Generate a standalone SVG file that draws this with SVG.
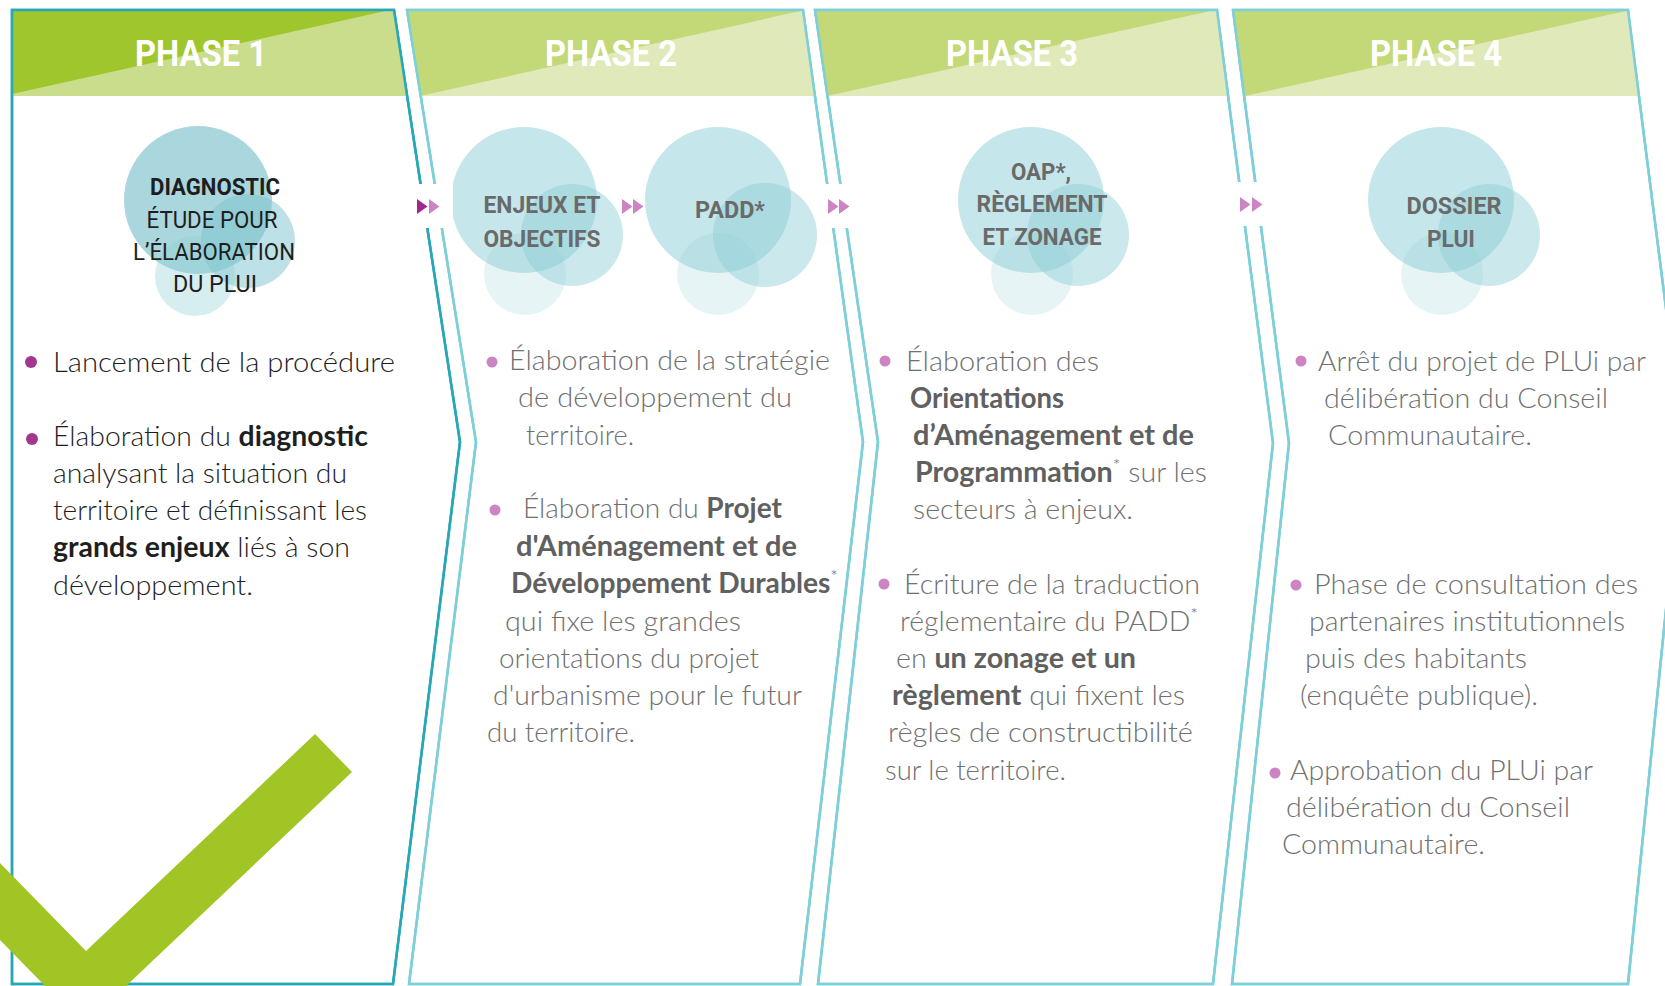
<svg xmlns="http://www.w3.org/2000/svg" width="1665" height="986" viewBox="0 0 1665 986">
<style>
.pan1{fill:#fff;stroke:#28a7b7;stroke-width:2.5;stroke-linejoin:miter}
.pan{fill:#fff;stroke:#7dcfd8;stroke-width:2.5;stroke-linejoin:miter}
.ttl{font-family:Roboto,"Liberation Sans",sans-serif;font-weight:700;font-size:36px;fill:#fff;text-anchor:middle}
.ct{font-family:Roboto,"Liberation Sans",sans-serif;font-weight:700;font-size:24px;fill:#6a6a6a;text-anchor:middle}
.ct1{font-family:Roboto,"Liberation Sans",sans-serif;font-weight:400;font-size:24px;fill:#1e1e1e;text-anchor:middle}
.ct1b{font-weight:700}
.tx{font-family:Lato,"Liberation Sans",sans-serif;font-weight:300;font-size:28px;fill:#707070}
.tx1{font-family:Lato,"Liberation Sans",sans-serif;font-weight:300;font-size:28px;fill:#1e1e1e}
.b{font-weight:700;fill:#606060}
.b1{font-weight:700;fill:#1f1f1f}
.sup{font-size:18px}
.c1a{fill:#6fbcc6;opacity:.6}
.c1b{fill:#7cc4cd;opacity:.5}
.c1c{fill:#8ccdd5;opacity:.35}
.ca{fill:#8ccdd5;opacity:.5}
.cb{fill:#8ccdd5;opacity:.45}
.cc{fill:#8ccdd5;opacity:.22}
.bul1{fill:#a3378f}
.bul{fill:#cd84c3}
.hd1a{fill:#9fc62c}
.hd1b{fill:#c9dd8d}
.hda{fill:#c3d977}
.hdb{fill:#dfe9ba}
</style>
<defs>
<clipPath id="clip1"><polygon points="12,10 394,10 460,442 393,984 12,984"/></clipPath>
<clipPath id="clip2"><polygon points="407,10 803,10 863,442 800,984 409,984 476,442"/></clipPath>
<clipPath id="clip3"><polygon points="815,10 1217,10 1273,443 1213,984 818,984 878,442"/></clipPath>
<clipPath id="clip4"><polygon points="1233,10 1628,10 1683,442 1628,984 1232,984 1289,443"/></clipPath>
<polygon id="tri" points="0,0 10.5,7.5 0,15"/>
</defs>
<rect width="1665" height="986" fill="#fff"/>

<g id="phase1">
<polygon class="pan1" points="12,10 394,10 460,442 393,984 12,984"/>
<g clip-path="url(#clip1)">
<rect class="hd1b" x="0" y="10" width="470" height="86"/>
<polygon class="hd1a" points="0,10 390,10 12,94 0,94"/>
</g>
<polygon class="pan1" style="fill:none" points="12,10 394,10 460,442 393,984 12,984"/>
<text class="ttl" x="201" y="66" textLength="132" lengthAdjust="spacingAndGlyphs">PHASE 1</text>
<circle class="c1a" cx="198" cy="200" r="74"/>
<circle class="c1b" cx="248" cy="241" r="47"/>
<circle class="c1c" cx="195" cy="276" r="40"/>
<text class="ct1 ct1b" x="215" y="195" textLength="130" lengthAdjust="spacingAndGlyphs">DIAGNOSTIC</text>
<text class="ct1" x="212" y="228" textLength="131" lengthAdjust="spacingAndGlyphs">ÉTUDE POUR</text>
<text class="ct1" x="214" y="260" textLength="162" lengthAdjust="spacingAndGlyphs">L’ÉLABORATION</text>
<text class="ct1" x="215" y="292" textLength="84" lengthAdjust="spacingAndGlyphs">DU PLUI</text>
<circle class="bul1" cx="31" cy="362" r="6"/>
<circle class="bul1" cx="32" cy="439" r="6"/>
<text class="tx1" x="53" y="372" textLength="342" lengthAdjust="spacingAndGlyphs">Lancement de la procédure</text>
<text class="tx1" x="53" y="446" textLength="315" lengthAdjust="spacingAndGlyphs">Élaboration du <tspan class="b1">diagnostic</tspan></text>
<text class="tx1" x="53" y="483" textLength="294" lengthAdjust="spacingAndGlyphs">analysant la situation du</text>
<text class="tx1" x="53" y="520" textLength="314" lengthAdjust="spacingAndGlyphs">territoire et définissant les</text>
<text class="tx1" x="53" y="557" textLength="297" lengthAdjust="spacingAndGlyphs"><tspan class="b1">grands enjeux</tspan> liés à son</text>
<text class="tx1" x="53" y="595" textLength="200" lengthAdjust="spacingAndGlyphs">développement.</text>
</g>

<g id="phase2">
<polygon class="pan" points="407,10 803,10 863,442 800,984 409,984 476,442"/>
<g clip-path="url(#clip2)">
<rect class="hdb" x="380" y="10" width="500" height="86"/>
<polygon class="hda" points="380,10 805,10 420,96 380,96"/>
</g>
<polygon class="pan" style="fill:none" points="407,10 803,10 863,442 800,984 409,984 476,442"/>
<text class="ttl" x="611" y="66" textLength="132" lengthAdjust="spacingAndGlyphs">PHASE 2</text>
<circle class="ca" cx="524" cy="200" r="73"/>
<circle class="cb" cx="572" cy="235" r="51"/>
<circle class="cc" cx="525" cy="274" r="41"/>
<text class="ct" x="542" y="213" textLength="117" lengthAdjust="spacingAndGlyphs">ENJEUX ET</text>
<text class="ct" x="542" y="247" textLength="117" lengthAdjust="spacingAndGlyphs">OBJECTIFS</text>
<circle class="ca" cx="718" cy="200" r="73"/>
<circle class="cb" cx="765" cy="235" r="52"/>
<circle class="cc" cx="718" cy="274" r="41"/>
<text class="ct" x="730" y="218" textLength="70" lengthAdjust="spacingAndGlyphs">PADD*</text>
<circle class="bul" cx="492" cy="362" r="5.5"/>
<circle class="bul" cx="495" cy="510" r="5.5"/>
<text class="tx" x="509" y="370" textLength="321" lengthAdjust="spacingAndGlyphs">Élaboration de la stratégie</text>
<text class="tx" x="518" y="407" textLength="274" lengthAdjust="spacingAndGlyphs">de développement du</text>
<text class="tx" x="526" y="445" textLength="108" lengthAdjust="spacingAndGlyphs">territoire.</text>
<text class="tx" x="523" y="518" textLength="259" lengthAdjust="spacingAndGlyphs">Élaboration du <tspan class="b">Projet</tspan></text>
<text class="tx" x="516" y="556" textLength="281" lengthAdjust="spacingAndGlyphs"><tspan class="b">d'Aménagement et de</tspan></text>
<text class="tx" x="511" y="593" textLength="327" lengthAdjust="spacingAndGlyphs"><tspan class="b">Développement Durables</tspan><tspan class="sup" dy="-10">*</tspan></text>
<text class="tx" x="505" y="631" textLength="236" lengthAdjust="spacingAndGlyphs">qui fixe les grandes</text>
<text class="tx" x="499" y="668" textLength="260" lengthAdjust="spacingAndGlyphs">orientations du projet</text>
<text class="tx" x="493" y="705" textLength="309" lengthAdjust="spacingAndGlyphs">d'urbanisme pour le futur</text>
<text class="tx" x="487" y="742" textLength="148" lengthAdjust="spacingAndGlyphs">du territoire.</text>
</g>

<g id="phase3">
<polygon class="pan" points="815,10 1217,10 1273,443 1213,984 818,984 878,442"/>
<g clip-path="url(#clip3)">
<rect class="hdb" x="790" y="10" width="500" height="86"/>
<polygon class="hda" points="790,10 1215,10 827,96 790,96"/>
</g>
<polygon class="pan" style="fill:none" points="815,10 1217,10 1273,443 1213,984 818,984 878,442"/>
<text class="ttl" x="1012" y="66" textLength="132" lengthAdjust="spacingAndGlyphs">PHASE 3</text>
<circle class="ca" cx="1031" cy="200" r="73"/>
<circle class="cb" cx="1078" cy="235" r="51"/>
<circle class="cc" cx="1032" cy="274" r="41"/>
<text class="ct" x="1041" y="180" textLength="60" lengthAdjust="spacingAndGlyphs">OAP*,</text>
<text class="ct" x="1042" y="212" textLength="131" lengthAdjust="spacingAndGlyphs">RÈGLEMENT</text>
<text class="ct" x="1042" y="245" textLength="119" lengthAdjust="spacingAndGlyphs">ET ZONAGE</text>
<circle class="bul" cx="885" cy="361" r="5.5"/>
<circle class="bul" cx="884" cy="584" r="5.5"/>
<text class="tx" x="906" y="371" textLength="193" lengthAdjust="spacingAndGlyphs">Élaboration des</text>
<text class="tx" x="910" y="408" textLength="154" lengthAdjust="spacingAndGlyphs"><tspan class="b">Orientations</tspan></text>
<text class="tx" x="913" y="445" textLength="281" lengthAdjust="spacingAndGlyphs"><tspan class="b">d’Aménagement et de</tspan></text>
<text class="tx" x="915" y="482" textLength="292" lengthAdjust="spacingAndGlyphs"><tspan class="b">Programmation</tspan><tspan class="sup" dy="-10">*</tspan><tspan dy="10"> sur les</tspan></text>
<text class="tx" x="913" y="519" textLength="220" lengthAdjust="spacingAndGlyphs">secteurs à enjeux.</text>
<text class="tx" x="904" y="594" textLength="296" lengthAdjust="spacingAndGlyphs">Écriture de la traduction</text>
<text class="tx" x="900" y="631" textLength="298" lengthAdjust="spacingAndGlyphs">réglementaire du PADD<tspan class="sup" dy="-10">*</tspan></text>
<text class="tx" x="896" y="668" textLength="240" lengthAdjust="spacingAndGlyphs">en <tspan class="b">un zonage et un</tspan></text>
<text class="tx" x="892" y="705" textLength="293" lengthAdjust="spacingAndGlyphs"><tspan class="b">règlement</tspan> qui fixent les</text>
<text class="tx" x="888" y="742" textLength="305" lengthAdjust="spacingAndGlyphs">règles de constructibilité</text>
<text class="tx" x="885" y="780" textLength="181" lengthAdjust="spacingAndGlyphs">sur le territoire.</text>
</g>

<g id="phase4">
<polygon class="pan" points="1233,10 1628,10 1683,442 1628,984 1232,984 1289,443"/>
<g clip-path="url(#clip4)">
<rect class="hdb" x="1210" y="10" width="480" height="86"/>
<polygon class="hda" points="1210,10 1630,10 1245,96 1210,96"/>
</g>
<polygon class="pan" style="fill:none" points="1233,10 1628,10 1683,442 1628,984 1232,984 1289,443"/>
<text class="ttl" x="1436" y="66" textLength="132" lengthAdjust="spacingAndGlyphs">PHASE 4</text>
<circle class="ca" cx="1441" cy="200" r="73"/>
<circle class="cb" cx="1489" cy="235" r="51"/>
<circle class="cc" cx="1442" cy="274" r="41"/>
<text class="ct" x="1454" y="214" textLength="95" lengthAdjust="spacingAndGlyphs">DOSSIER</text>
<text class="ct" x="1451" y="247" textLength="48" lengthAdjust="spacingAndGlyphs">PLUI</text>
<circle class="bul" cx="1301" cy="361" r="5.5"/>
<circle class="bul" cx="1296" cy="585" r="5.5"/>
<circle class="bul" cx="1275" cy="773" r="5.5"/>
<text class="tx" x="1318" y="371" textLength="328" lengthAdjust="spacingAndGlyphs">Arrêt du projet de PLUi par</text>
<text class="tx" x="1324" y="408" textLength="284" lengthAdjust="spacingAndGlyphs">délibération du Conseil</text>
<text class="tx" x="1328" y="445" textLength="204" lengthAdjust="spacingAndGlyphs">Communautaire.</text>
<text class="tx" x="1314" y="594" textLength="324" lengthAdjust="spacingAndGlyphs">Phase de consultation des</text>
<text class="tx" x="1309" y="631" textLength="316" lengthAdjust="spacingAndGlyphs">partenaires institutionnels</text>
<text class="tx" x="1305" y="668" textLength="222" lengthAdjust="spacingAndGlyphs">puis des habitants</text>
<text class="tx" x="1300" y="705" textLength="238" lengthAdjust="spacingAndGlyphs">(enquête publique).</text>
<text class="tx" x="1290" y="780" textLength="303" lengthAdjust="spacingAndGlyphs">Approbation du PLUi par</text>
<text class="tx" x="1286" y="817" textLength="284" lengthAdjust="spacingAndGlyphs">délibération du Conseil</text>
<text class="tx" x="1282" y="854" textLength="203" lengthAdjust="spacingAndGlyphs">Communautaire.</text>
</g>

<g id="connectors">
<rect x="409" y="184" width="44" height="44" fill="#fff"/>
<rect x="820" y="184" width="38" height="44" fill="#fff"/>
<rect x="1233" y="182" width="38" height="44" fill="#fff"/>
<use href="#tri" x="417" y="199" fill="#a1288a"/>
<use href="#tri" x="429" y="199" fill="#c985c1"/>
<use href="#tri" x="622" y="199" fill="#cd84c3"/>
<use href="#tri" x="633" y="199" fill="#cd84c3"/>
<use href="#tri" x="828" y="199" fill="#cd84c3"/>
<use href="#tri" x="839" y="199" fill="#cd84c3"/>
<use href="#tri" x="1240" y="197" fill="#cd84c3"/>
<use href="#tri" x="1252" y="197" fill="#cd84c3"/>
</g>

<g id="checkmark">
<polygon fill="#a1c524" points="0,863 86,951 315,734 352,772 126,986 45,986 0,940"/>
</g>
</svg>
